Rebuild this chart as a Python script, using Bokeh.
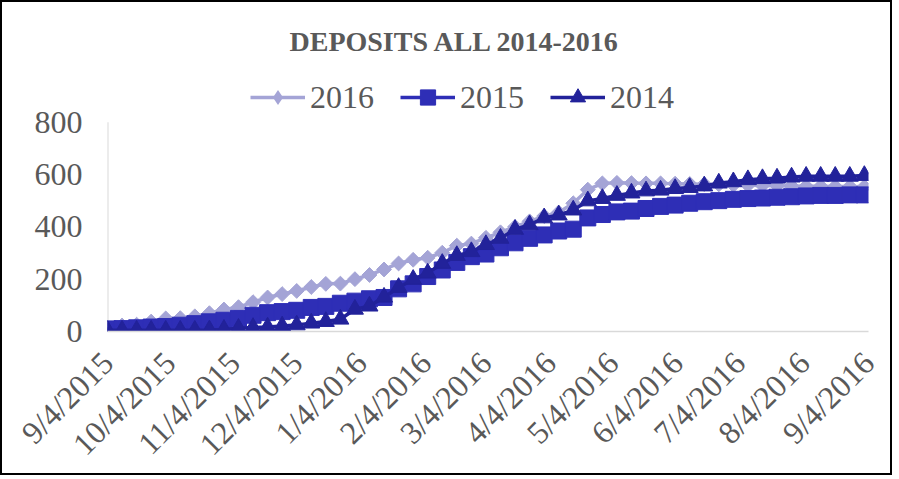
import pandas as pd
from math import pi
from bokeh.plotting import figure
from bokeh.models import Range1d, FixedTicker, Legend, LegendItem
from bokeh.embed import file_html
from bokeh.resources import INLINE

# ---------------- data ----------------
title_text = "DEPOSITS ALL 2014-2016"
first_week = "2015-09-04"
n_weeks = 53
tick_labels = ["9/4/2015", "10/4/2015", "11/4/2015", "12/4/2015", "1/4/2016",
               "2/4/2016", "3/4/2016", "4/4/2016", "5/4/2016", "6/4/2016",
               "7/4/2016", "8/4/2016", "9/4/2016"]
y_ticks = [0, 200, 400, 600, 800]
series_names = ["2016", "2015", "2014"]

deposits_2016 = [10, 23, 26, 38, 50, 51, 58, 70, 84, 93,
                 112, 130, 143, 155, 170, 182, 183, 200, 216, 237,
                 260, 274, 282, 301, 328, 336, 358, 379, 400, 421,
                 441, 455, 490, 542, 566, 568, 567, 566, 566, 565,
                 564, 563, 562, 560, 559, 558, 557, 556, 555, 555,
                 554, 554, 553]
deposits_2015 = [10, 11, 14, 17, 19, 24, 30, 37, 43, 50,
                 62, 72, 76, 81, 92, 96, 108, 116, 125, 130,
                 163, 182, 210, 235, 264, 286, 296, 320, 339, 356,
                 369, 384, 391, 434, 447, 457, 460, 470, 478, 483,
                 490, 496, 500, 505, 508, 510, 513, 515, 518, 520,
                 520, 522, 522]
deposits_2014 = [5, 5, 5, 5, 5, 5, 5, 6, 8, 12,
                 15, 17, 21, 25, 32, 38, 47, 85, 97, 131,
                 168, 199, 223, 260, 290, 305, 332, 356, 390, 408,
                 434, 445, 464, 499, 508, 520, 529, 537, 540, 546,
                 550, 556, 567, 572, 580, 584, 586, 590, 593, 593,
                 593, 593, 596]

colors = ["#A4A4D6", "#2E2EB6", "#22229A"]
markers = ["square", "square", "triangle"]
legend_markers = ["diamond", None, None]   # legend key differs only for 2016
marker_sizes = [10.5, 16, 17]
marker_angles = [pi / 4, 0, 0]

# ---------------- layout geometry (canvas pixels) ----------------
FRAME_TOP = 73          # frame extends up to hold the legend row
Y800_PX = 120           # canvas y of the 800 level
FRAME_BOTTOM = 331      # canvas y of the 0 line
y_top_value = 800 + (Y800_PX - FRAME_TOP) * 800 / (FRAME_BOTTOM - Y800_PX)

# ---------------- build ----------------
week_dates = pd.date_range(first_week, periods=n_weeks, freq="7D")
tick_dates = [pd.to_datetime(t, format="%m/%d/%Y") for t in tick_labels]
tick_ms = [int(d.timestamp() * 1000) for d in tick_dates]

FONT = "Liberation Serif"
GRAY = "#595959"
AXIS_GRAY = "#D9D9D9"

p = figure(width=892, height=475, x_axis_type="datetime",
           output_backend="svg", toolbar_location=None,
           x_range=Range1d(start=tick_dates[0], end=tick_dates[-1]),
           y_range=Range1d(start=0, end=y_top_value),
           min_border_left=105, min_border_right=26,
           min_border_top=FRAME_TOP, min_border_bottom=475 - FRAME_BOTTOM,
           outline_line_color=None,
           background_fill_color="white", border_fill_color="white")
p.styles = {"border": "2px solid #000000"}

p.xgrid.visible = False
p.ygrid.visible = False

p.yaxis.ticker = FixedTicker(ticks=y_ticks)
p.yaxis.axis_line_color = None
p.yaxis.major_tick_line_color = None
p.yaxis.minor_tick_line_color = None
p.yaxis.major_tick_out = 0
p.yaxis.major_label_standoff = 25
p.yaxis.major_label_text_font = FONT
p.yaxis.major_label_text_font_size = "32px"
p.yaxis.major_label_text_color = GRAY
# value axis line only spans 0..800, like the original
p.segment(x0=[tick_dates[0]], y0=[y_ticks[0]], x1=[tick_dates[0]], y1=[y_ticks[-1]],
          line_color=AXIS_GRAY, line_width=2)

p.xaxis.ticker = FixedTicker(ticks=tick_ms)
p.xaxis.major_label_overrides = {ms: lab for ms, lab in zip(tick_ms, tick_labels)}
p.xaxis.major_label_orientation = pi / 4
p.xaxis.axis_line_color = AXIS_GRAY
p.xaxis.axis_line_width = 1.5
p.xaxis.major_tick_line_color = None
p.xaxis.minor_tick_line_color = None
p.xaxis.major_tick_out = 0
p.xaxis.major_label_standoff = 26
p.xaxis.major_label_text_font = FONT
p.xaxis.major_label_text_font_size = "32px"
p.xaxis.major_label_text_color = GRAY

p.title.text = title_text
p.title.align = "left"
p.title.offset = 182
p.title.standoff = 38
p.title.text_font = FONT
p.title.text_font_style = "bold"
p.title.text_font_size = "28px"
p.title.text_color = GRAY

items = []
for name, vals, col, mk, lmk, sz, ang in zip(series_names,
                                             [deposits_2016, deposits_2015, deposits_2014],
                                             colors, markers, legend_markers,
                                             marker_sizes, marker_angles):
    ln = p.line(week_dates, vals, line_color=col, line_width=3.5)
    key = None
    if lmk is not None:
        # diamond key for the legend, hidden beneath the rotated squares
        key = p.scatter(week_dates, vals, marker=lmk, size=13,
                        fill_color=col, line_color=col, line_width=0)
    sc = p.scatter(week_dates, vals, marker=mk, size=sz, angle=ang,
                   fill_color=col, line_color=col, line_width=1)
    items.append(LegendItem(label=name, renderers=[ln, key if key is not None else sc]))

legend = Legend(items=items, orientation="horizontal", location=(143, 215),
                glyph_width=55, glyph_height=38, label_standoff=5, spacing=26,
                padding=0, margin=0, border_line_color=None,
                background_fill_alpha=0,
                label_text_font=FONT, label_text_font_size="32px",
                label_text_color=GRAY)
p.add_layout(legend, "center")

open("out.html", "w").write(file_html(p, INLINE))
